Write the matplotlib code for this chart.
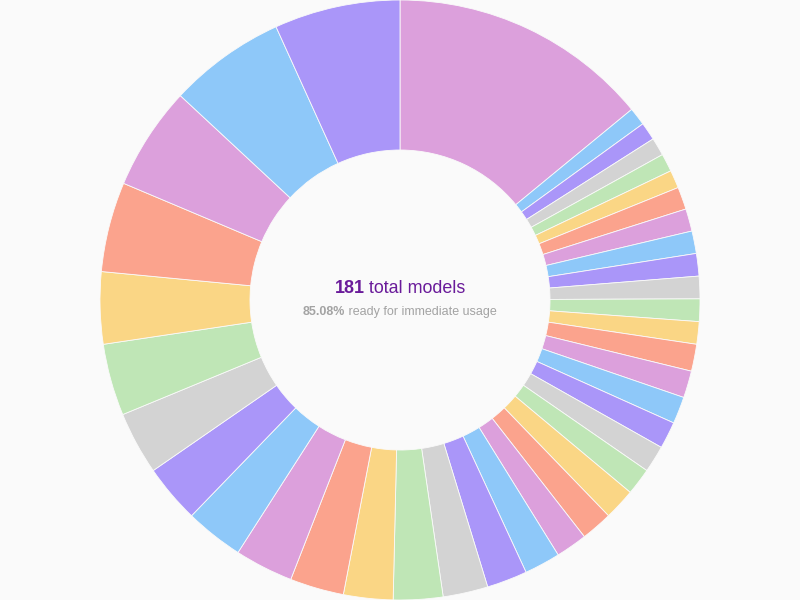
import matplotlib
matplotlib.use("Agg")
import matplotlib.pyplot as plt

# slice sizes, clockwise from 12 o'clock
values = [58, 4, 4, 4, 4, 4, 5, 5, 5, 5, 5, 5, 5, 6, 6, 6, 6, 6, 6,
          7, 7, 7, 8, 9, 10, 11, 11, 12, 13, 13, 13, 14, 16, 16, 20, 23, 26, 28]
palette = ["#DCA0DC", "#8EC8F9", "#AA96F9", "#D3D3D3", "#BFE6B6", "#FAD685", "#FBA38D"]

total_models = 181
ready_pct = "85.08%"

bg = "#FAFAFA"
colors = [palette[i % len(palette)] for i in range(len(values))]

fig = plt.figure(figsize=(8, 6), dpi=100, facecolor=bg)
ax = fig.add_axes([0, 0, 1, 1])
ax.set_facecolor(bg)

ax.pie(values, colors=colors, startangle=90, counterclock=False, radius=1.0,
       wedgeprops=dict(width=0.5, edgecolor=bg, linewidth=0.6))

ax.set_xlim(-4 / 3, 4 / 3)
ax.set_ylim(-1, 1)
ax.set_aspect("equal")
ax.axis("off")


def centered_parts(y, parts, size, color):
    # draw bold + regular pieces side by side, centered at x=0
    fig.canvas.draw()
    r = fig.canvas.get_renderer()
    texts = []
    for s, w in parts:
        t = ax.text(0, y, s, fontsize=size, fontweight=w, color=color,
                    family="Liberation Sans", va="center", ha="left")
        texts.append(t)
    widths = [t.get_window_extent(r).width for t in texts]
    total = sum(widths)
    px_per_unit = ax.transData.transform((1, 0))[0] - ax.transData.transform((0, 0))[0]
    x = -total / 2 / px_per_unit
    for t, w in zip(texts, widths):
        t.set_x(x)
        x += w / px_per_unit


centered_parts(0.037, [(str(total_models), "bold"), (" total models", "normal")], 12.9, "#6A1B9A")
centered_parts(-0.04, [(ready_pct, "bold"), (" ready for immediate usage", "normal")], 9.0, "#A3A3A3")

fig.savefig("out.png", dpi=100, facecolor=bg)
